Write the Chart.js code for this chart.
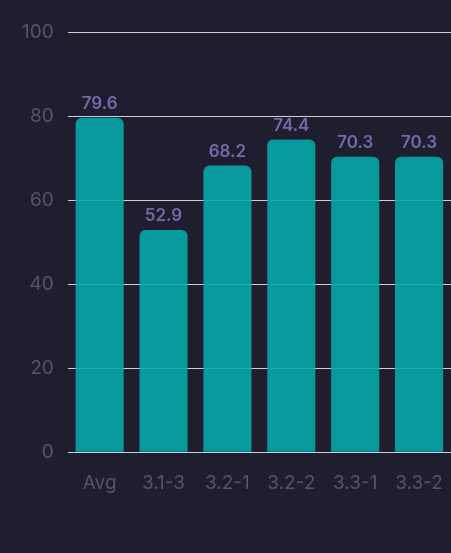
<!DOCTYPE html>
<html>
<head>
<meta charset="utf-8">
<script src="https://cdn.jsdelivr.net/npm/chart.js@4.4.0/dist/chart.umd.min.js"></script>
<style>
  html, body { margin: 0; padding: 0; background: #1f1e2e; }
  #c { display: block; }
</style>
</head>
<body>
<canvas id="c" width="451" height="553"></canvas>
<script>
const categories = ["Avg", "3.1-3", "3.2-1", "3.2-2", "3.3-1", "3.3-2"];
const values = [79.6, 52.9, 68.2, 74.4, 70.3, 70.3];
const yTicks = [0, 20, 40, 60, 80, 100];

const valueLabels = {
  id: 'valueLabels',
  afterDatasetsDraw(chart) {
    const ctx = chart.ctx;
    const meta = chart.getDatasetMeta(0);
    ctx.save();
    ctx.font = '600 17px Inter';
    ctx.fillStyle = '#7667a8';
    ctx.textAlign = 'center';
    ctx.textBaseline = 'alphabetic';
    meta.data.forEach((bar, i) => {
      ctx.fillText(values[i].toFixed(1), bar.x, bar.y - 9);
    });
    ctx.restore();
  }
};

new Chart(document.getElementById('c'), {
  type: 'bar',
  data: {
    labels: categories,
    datasets: [{
      data: values,
      backgroundColor: 'rgba(5,166,170,0.9)',
      borderWidth: 0,
      borderRadius: 6,
      borderSkipped: 'start',
      categoryPercentage: 1,
      barPercentage: 0.753
    }]
  },
  options: {
    responsive: false,
    devicePixelRatio: 1,
    animation: false,
    layout: { padding: { top: 32, left: 8, right: 0, bottom: 38 } },
    plugins: { legend: { display: false }, tooltip: { enabled: false } },
    scales: {
      x: {
        afterFit(scale) { scale.paddingRight = 0; scale.paddingLeft = 0; },
        grid: { display: false, drawTicks: false },
        border: { display: false },
        ticks: { color: '#55536d', font: { family: 'Inter', size: 19 }, padding: 20 }
      },
      y: {
        min: 0, max: 100,
        afterBuildTicks(scale) { scale.ticks = yTicks.map(v => ({ value: v })); },
        grid: { color: '#cfcfd6', lineWidth: 1, drawTicks: false },
        border: { display: false },
        ticks: { color: '#55536d', font: { family: 'Inter', size: 19 }, padding: 14 }
      }
    }
  },
  plugins: [valueLabels]
});
</script>
</body>
</html>
